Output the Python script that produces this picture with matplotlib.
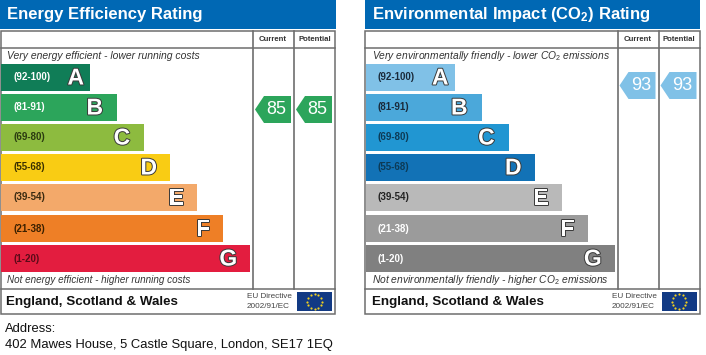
import matplotlib
matplotlib.use('Agg')
import matplotlib.pyplot as plt
import matplotlib.patheffects as pe
import numpy as np
from matplotlib.patches import Polygon, Rectangle

plt.rcParams['font.family'] = ['Liberation Sans', 'DejaVu Sans']
plt.rcParams['mathtext.fontset'] = 'custom'
plt.rcParams['mathtext.rm'] = 'Liberation Sans'
plt.rcParams['mathtext.it'] = 'Liberation Sans:italic'
plt.rcParams['mathtext.bf'] = 'Liberation Sans:bold'

letters = ['A', 'B', 'C', 'D', 'E', 'F', 'G']
bands = ['(92-100)', '(81-91)', '(69-80)', '(55-68)', '(39-54)', '(21-38)', '(1-20)']
band_lengths = [90, 117, 144, 170, 197, 223, 250]
energy_colors = ['#107d57', '#2ca55b', '#8dbb3f', '#f9cc14', '#f3a96a', '#ee7f26', '#e31d3f']
env_colors = ['#80c1e7', '#4ba8da', '#2196d2', '#1272b6', '#b9b9b9', '#9b9b9b', '#808080']
energy_label_colors = ['#ffffff', '#ffffff', '#2a3a10', '#3a3000', '#3a2a10', '#3a2000', '#5a0a18']
env_label_colors = ['#1a2a3a', '#1a2a3a', '#0d3a55', '#0d3a55', '#222222', '#ffffff', '#ffffff']
energy_rating = [85, 85]
env_rating = [93, 93]
energy_rating_color = '#2ca55b'
env_rating_color = '#80c1e7'
rating_heads = ['Current', 'Potential']
address = ['Address:', '402 Mawes House, 5 Castle Square, London, SE17 1EQ']

fig = plt.figure(figsize=(7.06, 3.55), dpi=100)
ax = fig.add_axes([0, 0, 1, 1])
ax.set_xlim(0, 706)
ax.set_ylim(355, 0)
ax.axis('off')

row_top = [64, 94, 124, 154, 184, 215, 245]
letter_gap = [6, 14, 14, 13, 13, 13, 13]
grey = '#6e6e6e'


def rating_y(r):
    # the arrows sit 3px per point, 85 is at y=109.5
    return 109.5 - 3 * (r - 85)


def panel(x0, title, top_note, bottom_note, note_sizes, footer_x, colors, label_colors, ratings, rating_color):
    ax.add_patch(Rectangle((x0, 0), 335.5, 28.5, fc='#0068b4', ec='none'))
    ax.text(x0 + 7, 14.5, title, color='white', fontsize=12, fontweight='bold', va='center')

    ax.add_patch(Rectangle((x0 + 0.5, 30.5), 334.5, 283.5, fc='white', ec=grey, lw=1.1))
    ax.plot([x0 + 0.5, x0 + 335], [47.5, 47.5], color=grey, lw=1.1)
    ax.plot([x0 + 0.5, x0 + 335], [288.5, 288.5], color=grey, lw=1.1)
    ax.plot([x0 + 253, x0 + 253], [30.5, 288.5], color=grey, lw=1.2)
    ax.plot([x0 + 294, x0 + 294], [30.5, 288.5], color=grey, lw=1.2)

    ax.text(x0 + 273, 39.5, rating_heads[0], fontsize=5.6, fontweight='bold', color='#333333', ha='center', va='center')
    ax.text(x0 + 314.5, 39.5, rating_heads[1], fontsize=5.6, fontweight='bold', color='#333333', ha='center', va='center')

    ax.text(x0 + 7, 56, top_note, fontsize=note_sizes[0], style='italic', color='#333333', va='center')
    ax.text(x0 + 7, 280, bottom_note, fontsize=note_sizes[1], style='italic', color='#333333', va='center')

    for i in range(len(letters)):
        ax.add_patch(Rectangle((x0 + 1, row_top[i]), band_lengths[i] - 1, 27, fc=colors[i], ec='none'))
        ax.text(x0 + 13, row_top[i] + 13.5, bands[i], fontsize=7, fontweight='bold', color=label_colors[i], va='center')
        t = ax.text(x0 + band_lengths[i] - letter_gap[i], row_top[i] + 14, letters[i], fontsize=16.5, fontweight='bold',
                    color='white', ha='right', va='center')
        t.set_path_effects([pe.withStroke(linewidth=1.4, foreground='#3a3a3a')])

    for x, r in zip([x0 + 255, x0 + 296], ratings):
        y = rating_y(r)
        pts = [(x, y), (x + 9, y - 13.5), (x + 36, y - 13.5), (x + 36, y + 13.5), (x + 9, y + 13.5)]
        ax.add_patch(Polygon(pts, closed=True, fc=rating_color, ec='none'))
        ax.text(x + 21.5, y + 0.5, str(r), color='white', fontsize=13, ha='center', va='center')

    ax.text(x0 + footer_x, 302, 'England, Scotland & Wales', fontsize=9.65, fontweight='bold', color='#111111', va='center')
    ax.text(x0 + 247, 297, 'EU Directive', fontsize=5.9, color='#444444', va='center')
    ax.text(x0 + 247, 306.5, '2002/91/EC', fontsize=5.9, color='#444444', va='center')

    ax.add_patch(Rectangle((x0 + 297, 292), 35, 19, fc='#123a84', ec='none'))
    ang = np.arange(12) * np.pi / 6
    ax.scatter(x0 + 314.5 + 7.2 * np.cos(ang), 301.5 + 7.2 * np.sin(ang), s=2.5, color='#f0d020', marker='o', lw=0)


panel(0, 'Energy Efficiency Rating', 'Very energy efficient - lower running costs',
      'Not energy efficient - higher running costs', [7.5, 7.1], 6, energy_colors, energy_label_colors,
      energy_rating, energy_rating_color)
panel(364.5, r'Environmental Impact (CO$_{\mathbf{2}}$) Rating',
      r'Very environmentally friendly - lower CO$_{\mathrm{2}}$ emissions',
      r'Not environmentally friendly - higher CO$_{\mathrm{2}}$ emissions', [7.4, 7.4], 7.5, env_colors, env_label_colors,
      env_rating, env_rating_color)

ax.text(5, 329, address[0], fontsize=9.35, color='#111111', va='center')
ax.text(5, 345, address[1], fontsize=9.35, color='#111111', va='center')

fig.savefig('out.png', dpi=100)
